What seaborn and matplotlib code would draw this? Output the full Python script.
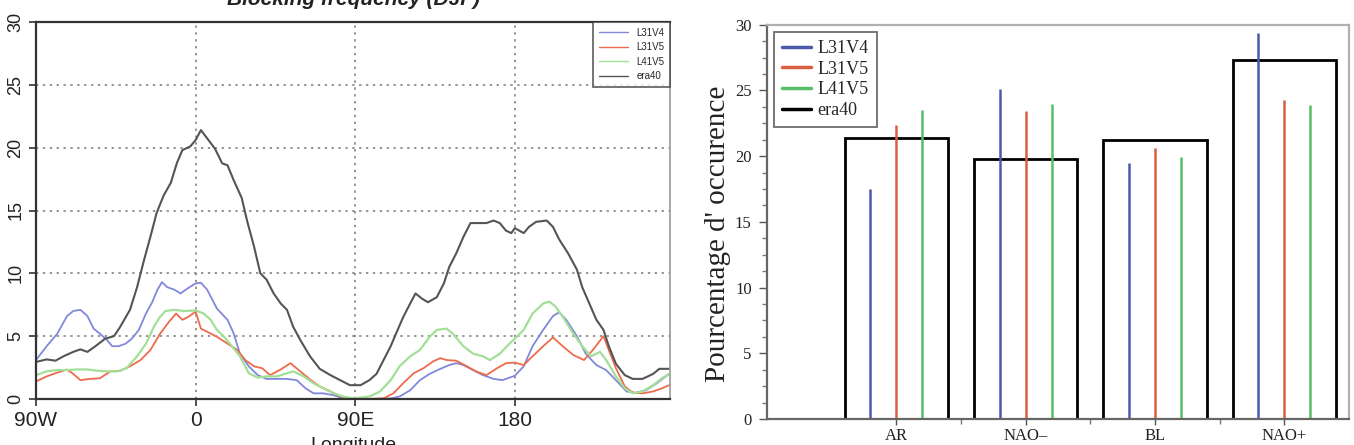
import numpy as np
import pandas as pd
import seaborn as sns
import matplotlib.pyplot as plt
from matplotlib.lines import Line2D
from matplotlib.ticker import MultipleLocator

# --- left panel : blocking frequency (DJF) vs longitude ---
lon_l31v4 = [-90, -84, -78, -72.5, -69, -65, -61, -57.5, -54, -50, -47, -43.5, -39.5, -36, -32, -28, -24.5,
             -21.5, -19, -16, -12, -8.5, -4.5, 0, 3, 6.5, 12, 18, 21.5, 25, 30, 35, 40, 46, 51.5, 57, 62,
             66.5, 72, 78, 83, 90, 100, 110, 115, 121, 126.5, 132, 138, 143, 147, 151, 156.5, 162, 168,
             173, 180, 185, 190, 196, 201.5, 205, 209, 215, 220, 226, 231.5, 237, 243, 248, 254, 260, 267]
l31v4 = [3.1, 4.2, 5.2, 6.6, 7.0, 7.1, 6.6, 5.6, 5.2, 4.7, 4.2, 4.2, 4.4, 4.8, 5.5, 6.8, 7.7,
         8.7, 9.3, 8.9, 8.7, 8.4, 8.8, 9.2, 9.25, 8.7, 7.2, 6.3, 5.2, 3.6, 2.6, 1.9, 1.6, 1.6, 1.6, 1.5, 0.85,
         0.45, 0.45, 0.3, 0.05, 0.0, 0.0, 0.05, 0.2, 0.7, 1.5, 2.0, 2.4, 2.7, 2.85, 2.7, 2.3, 1.9, 1.6,
         1.5, 1.85, 2.6, 4.2, 5.5, 6.6, 6.9, 6.3, 5.0, 3.6, 2.7, 2.3, 1.5, 0.6, 0.5, 0.7, 1.25, 2.0]

lon_l31v5 = [-90, -84, -78, -72.5, -69, -65, -59.5, -54, -48, -42.5, -37, -31, -25.5, -20, -15, -11, -7.5,
             -4, 0, 3, 6.5, 12, 18, 23.5, 28, 33, 37.5, 42, 48, 53.5, 59, 65, 70, 76, 81.5, 87, 95, 106,
             111.5, 117, 123, 128.5, 134, 138, 141.5, 147, 153, 158, 164, 170, 175, 180, 185, 190, 196,
             201.5, 207, 213, 219, 224, 230, 233, 237, 242, 246.5, 252, 258, 263, 267]
l31v5 = [1.4, 1.8, 2.1, 2.35, 2.0, 1.5, 1.6, 1.65, 2.2, 2.25, 2.6, 3.1, 3.9, 5.2, 6.15, 6.8, 6.3,
         6.55, 6.95, 5.6, 5.35, 4.95, 4.4, 3.9, 3.1, 2.6, 2.45, 1.9, 2.35, 2.85, 2.2, 1.5, 1.0, 0.6, 0.2, 0.05, 0.0, 0.05,
         0.45, 1.25, 2.05, 2.45, 3.0, 3.25, 3.1, 3.05, 2.6, 2.2, 1.9, 2.45, 2.85, 2.9, 2.7, 3.4, 4.2,
         4.9, 4.2, 3.5, 3.1, 3.9, 5.0, 3.9, 2.45, 1.0, 0.5, 0.45, 0.6, 0.85, 1.1]

lon_l41v5 = [-90, -84, -78, -72.5, -67, -61, -55.5, -50, -44, -39, -33, -28, -23.5, -20, -17, -12, -6.5,
             0, 4.5, 8.5, 12, 16, 20.5, 25, 30, 35, 40, 46, 51.5, 55, 61, 66.5, 72, 78, 83, 89, 98, 104,
             110, 115, 121, 126.5, 132, 136, 141.5, 145, 151, 156.5, 162, 166, 171.5, 177, 180, 185, 190,
             196, 199.5, 203, 207, 213, 218, 223, 228, 231.5, 237, 242, 246.5, 252, 258, 263, 267]
l41v5 = [1.9, 2.2, 2.3, 2.3, 2.35, 2.35, 2.25, 2.2, 2.2, 2.45, 3.4, 4.4, 5.75, 6.55, 7.0, 7.1, 7.0,
         7.05, 6.8, 6.3, 5.5, 4.95, 4.2, 3.4, 2.05, 1.7, 1.8, 1.8, 2.05, 2.2, 1.8, 1.25, 0.85, 0.45, 0.2, 0.05, 0.2, 0.6,
         1.5, 2.6, 3.4, 3.9, 4.95, 5.5, 5.6, 5.2, 4.2, 3.6, 3.4, 3.1, 3.6, 4.4, 4.8, 5.5, 6.8,
         7.6, 7.75, 7.35, 6.55, 5.2, 4.2, 3.4, 3.75, 3.1, 1.8, 0.85, 0.45, 0.6, 1.1, 1.65, 2.0]

lon_era40 = [-90, -84, -79, -74.5, -69, -65, -61, -56.5, -51, -46, -42.5, -37, -33, -29, -25.5, -22, -18,
             -14, -10.5, -7.5, -3, 0, 3, 11, 15, 18, 21.5, 26, 29, 33, 36.5, 40, 44, 48, 51.5, 55, 59,
             64.5, 70, 76, 81.5, 87, 93, 98, 102, 106, 110, 113, 117, 121, 124, 127.5, 131, 136, 140, 143,
             147, 151, 155, 160, 164, 168, 171.5, 175, 178, 180, 185, 188, 192, 198, 201.5, 205, 210, 215,
             218, 222, 226, 230, 233, 237, 242, 246.5, 252, 258, 261.5, 267]
era40 = [2.95, 3.15, 3.05, 3.4, 3.75, 3.95, 3.75, 4.2, 4.8, 5.0, 5.75, 7.1, 8.9, 11.1, 12.9, 14.8, 16.2,
         17.2, 18.8, 19.8, 20.1, 20.6, 21.4, 19.9, 18.75, 18.6, 17.4, 16.0, 14.2, 12.1, 10.0, 9.5, 8.4, 7.6, 7.1, 5.75, 4.7,
         3.4, 2.4, 1.9, 1.5, 1.1, 1.1, 1.5, 2.0, 3.1, 4.2, 5.2, 6.5, 7.6, 8.4, 8.0, 7.7, 8.1, 9.2, 10.5,
         11.6, 12.9, 14.0, 14.0, 14.0, 14.2, 14.0, 13.4, 13.2, 13.6, 13.2, 13.7, 14.1, 14.2, 13.7, 12.7, 11.6, 10.3,
         8.9, 7.6, 6.3, 5.5, 4.2, 2.8, 1.9, 1.6, 1.6, 2.0, 2.4, 2.4]

lon_ticks = [-90, 0, 90, 180]
lon_labels = ['90W', '0', '90E', '180']

# --- right panel : regime occurrence ---
regimes = ['AR', 'NAO\u2013', 'BL', 'NAO+']
occ_l31v4 = [17.5, 25.1, 19.5, 29.35]
occ_l31v5 = [22.4, 23.4, 20.6, 24.3]
occ_l41v5 = [23.5, 23.95, 19.9, 23.9]
occ_era40 = [21.4, 19.8, 21.2, 27.3]

sns.set_style('white')
plt.rcParams['font.family'] = ['Liberation Sans', 'DejaVu Sans']

fig = plt.figure(figsize=(13.54, 4.45), dpi=100)

# ---------------- left ----------------
ax1 = fig.add_axes([36 / 1354, 1 - 399 / 445, (670 - 36) / 1354, (399 - 22) / 445])
line_cols = {'L31V4': '#8088da', 'L31V5': '#ee6a4c', 'L41V5': '#a2df97', 'era40': '#555555'}
sns.lineplot(x=lon_l31v4, y=l31v4, ax=ax1, color=line_cols['L31V4'], lw=1.3, label='L31V4')
sns.lineplot(x=lon_l31v5, y=l31v5, ax=ax1, color=line_cols['L31V5'], lw=1.3, label='L31V5')
sns.lineplot(x=lon_l41v5, y=l41v5, ax=ax1, color=line_cols['L41V5'], lw=1.6, label='L41V5')
sns.lineplot(x=lon_era40, y=era40, ax=ax1, color=line_cols['era40'], lw=1.5, label='era40')

ax1.set_xlim(-90, 267.5)
ax1.set_ylim(0, 30)
ax1.set_xticks(lon_ticks)
ax1.set_xticklabels(lon_labels, fontsize=15, color='#222222')
ax1.set_yticks(range(0, 31, 5))
ax1.set_yticklabels([str(v) for v in range(0, 31, 5)], fontsize=13, rotation=90, va='center', color='#222222')
ax1.tick_params(axis='both', direction='out', length=5, width=1.2, color='#333333', bottom=True, left=True)
ax1.grid(True, linestyle=(0, (1.5, 3)), color='#777777', lw=1.1)
for side in ['left', 'bottom', 'top']:
    ax1.spines[side].set_color('#333333')
    ax1.spines[side].set_linewidth(1.6)
ax1.spines['right'].set_color('#999999')
ax1.spines['right'].set_linewidth(1.2)
ax1.set_xlabel('')
ax1.set_ylabel('')
leg1 = ax1.legend(loc='upper right', fontsize=7, frameon=True, fancybox=False, borderaxespad=0,
                  handlelength=3, labelspacing=0.45, borderpad=0.6, handletextpad=0.8)
leg1.get_frame().set_edgecolor('#333333')
leg1.get_frame().set_linewidth(1.2)
for h in leg1.get_lines():
    h.set_linewidth(1.0)
fig.text((36 + 670) / 2 / 1354, 1 - 5 / 445, 'Blocking frequency (DJF)', ha='center', va='baseline',
         fontsize=15, fontweight='bold', fontstyle='italic', color='#222222')
fig.text((36 + 670) / 2 / 1354, 1 - 437 / 445, 'Longitude', ha='center', va='top', fontsize=14, color='#222222')

# ---------------- right ----------------
ax2 = fig.add_axes([767 / 1354, 1 - 419 / 445, (1349 - 767) / 1354, (419 - 24.7) / 445])
sns.barplot(x=regimes, y=occ_era40, ax=ax2, color='black', fill=False, linewidth=2.0, width=0.8)
pos = np.arange(len(regimes))
ax2.vlines(pos - 0.2, 0, occ_l31v4, color='#4a5aa8', lw=1.8)
ax2.vlines(pos, 0, occ_l31v5, color='#d9603f', lw=1.8)
ax2.vlines(pos + 0.2, 0, occ_l41v5, color='#55c067', lw=1.8)

ax2.set_xlim(-1, 3.5)
ax2.set_ylim(0, 30)
ax2.set_yticks(range(0, 31, 5))
ax2.yaxis.set_minor_locator(MultipleLocator(1.25))
ax2.set_xticks(pos)
ax2.set_xticks(pos[:-1] + 0.5, minor=True)
serif = ['Liberation Serif', 'DejaVu Serif']
ax2.set_xticklabels(regimes, fontsize=12, family=serif, color='#222222')
ax2.set_yticklabels([str(v) for v in range(0, 31, 5)], fontsize=12, family=serif, color='#222222')
ax2.tick_params(axis='y', which='major', direction='out', length=6, width=1.0, color='#555555',
                left=True, pad=5)
ax2.tick_params(axis='x', which='major', direction='out', length=4, width=1.0, color='#555555',
                bottom=True, pad=2.5)
ax2.tick_params(axis='both', which='minor', direction='out', length=3.5, width=1.0, color='#777777',
                bottom=True, left=True)
ax2.set_ylabel("Pourcentage d' occurence", fontsize=21, family=serif, color='#222222')
ax2.yaxis.set_label_coords(-0.062, 0.47)
ax2.set_xlabel('')
for side in ['left', 'bottom']:
    ax2.spines[side].set_color('#666666')
    ax2.spines[side].set_linewidth(1.6)
for side in ['top', 'right']:
    ax2.spines[side].set_color('#b0b0b0')
    ax2.spines[side].set_linewidth(1.6)

handles = [Line2D([], [], color='#4a5aa8', lw=2.5), Line2D([], [], color='#d9603f', lw=2.5),
           Line2D([], [], color='#55c067', lw=2.5), Line2D([], [], color='black', lw=2.5)]
leg2 = ax2.legend(handles, ['L31V4', 'L31V5', 'L41V5', 'era40'], loc='upper left',
                  prop={'family': serif, 'size': 13}, frameon=True, fancybox=False,
                  borderaxespad=0.4, handlelength=1.6, labelspacing=0.2, borderpad=0.45, handletextpad=0.35)
leg2.get_frame().set_edgecolor('#555555')
leg2.get_frame().set_linewidth(1.4)

fig.savefig('out.png', dpi=100)
